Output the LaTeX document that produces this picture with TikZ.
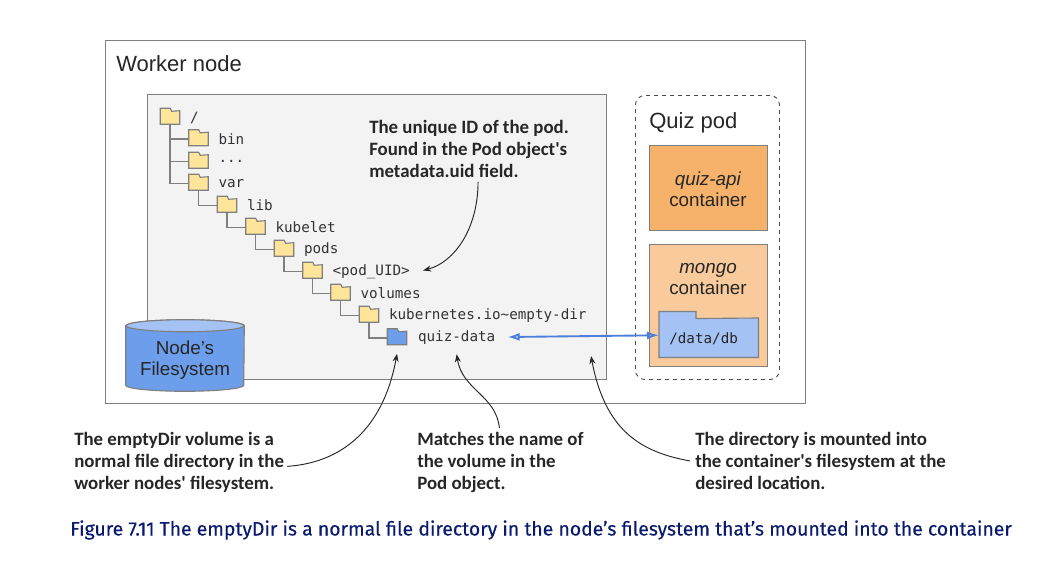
\documentclass[tikz,border=0pt]{standalone}
\usepackage{fontspec}
\setmainfont{Liberation Sans}
\setmonofont{DejaVu Sans Mono}
\newfontfamily\notefont{Carlito}
\newfontfamily\captfont[FakeBold=0.25]{Fira Sans}
\usetikzlibrary{arrows.meta,calc,positioning}
\newcommand{\myunit}{0.75pt}
\newcommand{\dotlbl}{...}
\newcommand{\slashlbl}{/}
\definecolor{linegray}{HTML}{7F7F7F}
\definecolor{paneblue}{HTML}{6D9EEB}
\definecolor{arrowblue}{HTML}{4A7FDC}
\definecolor{lightblue}{HTML}{A4C2F4}
\definecolor{folderyellow}{HTML}{FFE599}
\definecolor{apiorange}{HTML}{F6B26B}
\definecolor{mongoorange}{HTML}{F9CB9C}
\definecolor{panegray}{HTML}{F3F3F3}
\definecolor{captionblue}{HTML}{0A1A6E}
\tikzset{
    boxsty/.style={draw=linegray,line width=0.9pt,rectangle,anchor=north west,inner sep=0pt},
    foldersty/.style={rectangle,inner sep=0pt,minimum width=19*\myunit,minimum height=13*\myunit},
    tabsty/.style={draw=linegray,line width=0.85pt,fill=#1},
    dirsty/.style={anchor=west,font=\ttfamily\fontsize{10.7pt}{12pt}\selectfont,text=black!80,inner sep=0pt},
    linksty/.style={draw=linegray,line width=0.85pt},
    titlesty/.style={anchor=north west,font=\fontsize{16.5pt}{18pt}\selectfont,text=black!85,inner sep=0pt},
    contsty/.style={align=center,font=\fontsize{14.1pt}{16pt}\selectfont,text=black!85,inner sep=0pt},
    notesty/.style={anchor=north west,align=left,font=\notefont\bfseries\fontsize{14.15pt}{16.5pt}\selectfont,text=black!85,inner sep=0pt},
    callsty/.style={draw=black!85,line width=0.7pt,-{Stealth[length=6pt,width=4.5pt]}},
    capsty/.style={x radius=59*\myunit,y radius=6*\myunit},
}
\begin{document}
\begin{tikzpicture}[x=\myunit,y=-\myunit]
  \useasboundingbox (0,0) rectangle (1062,568);

  \node[boxsty,minimum width=700*\myunit,minimum height=363*\myunit] (worker) at (105,40) {};
  \node[titlesty] (workertitle) at (116,55) {Worker node};
  \node[boxsty,fill=panegray,minimum width=459*\myunit,minimum height=285*\myunit] (pane) at (147,94) {};

  % directory tree
  \foreach \fname/\fx/\fy/\ftext in {
    root/170/117.5/\slashlbl,
    bin/198.5/139/bin,
    dots/198.5/161.5/\dotlbl,
    var/198.5/183.5/var,
    lib/227/205.5/lib,
    kubelet/255.5/227.5/kubelet,
    pods/284/249.5/pods,
    poduid/312.5/271.5/{<pod\_UID>},
    volumes/340.5/293.5/volumes,
    k8sdir/369/315.5/{kubernetes.io\textasciitilde empty-dir}}
  {
    \node[foldersty] (\fname) at (\fx,\fy) {};
    \draw[tabsty=folderyellow] (\fname.south west) -- ++(0,-16) -- ++(10,0) -- ++(1.5,3) -- (\fname.north east) -- (\fname.south east) -- cycle;
    \node[dirsty] (\fname-lbl) at ($(\fname.east)+(10,0)$) {\ftext};
  }
  \node[foldersty] (quizdata) at (397,338) {};
  \draw[tabsty=paneblue] (quizdata.south west) -- ++(0,-16) -- ++(10,0) -- ++(1.5,3) -- (quizdata.north east) -- (quizdata.south east) -- cycle;
  \node[dirsty] (quizdata-lbl) at ($(quizdata.east)+(11,0)$) {quiz-data};

  \foreach \fparent/\fchild in {root/bin,root/dots,root/var,var/lib,lib/kubelet,kubelet/pods,pods/poduid,poduid/volumes,volumes/k8sdir,k8sdir/quizdata}
    \draw[linksty] (\fparent.south) |- (\fchild.west);

  % filesystem drum
  \node[rectangle,inner sep=0pt,minimum width=118*\myunit,minimum height=59*\myunit] (nodefs) at (185,355.5) {};
  \draw[tabsty=paneblue] (nodefs.north west) -- (nodefs.south west) arc[start angle=180,end angle=360,capsty] -- (nodefs.north east) arc[start angle=0,end angle=180,capsty] -- cycle;
  \draw[tabsty=lightblue] (nodefs.north) ellipse[capsty];
  \node[contsty] (nodefs-lbl) at (185,360) {Node's\\Filesystem};

  % quiz pod
  \node[boxsty,draw=black!70,dashed,rounded corners=7pt,line width=0.7pt,minimum width=144*\myunit,minimum height=284*\myunit] (pod) at (635,95) {};
  \node[titlesty] (podtitle) at (649,112) {Quiz pod};
  \node[boxsty,fill=apiorange,minimum width=118*\myunit,minimum height=85*\myunit] (api) at (649,145) {};
  \node[contsty] (api-lbl) at (708,189) {\textit{quiz-api}\\container};
  \node[boxsty,fill=mongoorange,minimum width=118*\myunit,minimum height=122*\myunit] (mongo) at (649,244) {};
  \node[contsty] (mongo-lbl) at (708,279) {\textit{mongo}\\container};
  \node[foldersty,anchor=north west,minimum width=99*\myunit,minimum height=39*\myunit] (dbdir) at (659,318) {};
  \draw[tabsty=lightblue] (dbdir.south west) -- ++(0,-46) -- ++(37,0) -- ++(0,7) -- (dbdir.north east) -- (dbdir.south east) -- cycle;
  \node[dirsty,text=black!85] (dbdir-lbl) at (669,339) {/data/db};

  % callouts
  \node[notesty] (uidnote) at (369,120) {The unique ID of the pod.\\Found in the Pod object's\\metadata.uid field.};
  \node[notesty] (dirnote) at (74,432) {The emptyDir volume is a\\normal file directory in the\\worker nodes' filesystem.};
  \node[notesty] (namenote) at (417,432) {Matches the name of\\the volume in the\\Pod object.};
  \node[notesty] (mountnote) at (695,432) {The directory is mounted into\\the container's filesystem at the\\desired location.};
  \coordinate (mountpt) at (591,356);

  \draw[callsty] ($(uidnote.south)+(9,4)$) .. controls (478,228) and (455,262) .. ($(poduid-lbl.east)+(13,-1)$);
  \draw[callsty] ($(dirnote.east)+(3,4)$) .. controls (350,462) and (385,420) .. ($(quizdata.south)+(0,9)$);
  \draw[callsty] ($(namenote.north)+(-1,-4)$) .. controls (496,395) and (462,390) .. ($(quizdata-lbl.south)+(0,9)$);
  \draw[callsty] ($(mountnote.west)+(-5,0)$) .. controls (640,452) and (605,430) .. (mountpt);

  \draw[draw=arrowblue,line width=1.4pt,{Latex[open,length=9pt,width=6pt]}-{Latex[open,length=9pt,width=6pt]}] ($(quizdata-lbl.east)+(12,-1)$) -- ($(dbdir.west)+(0,-2.5)$);

  \node[anchor=west,inner sep=0pt,font=\captfont\fontsize{14.55pt}{16pt}\selectfont,text=captionblue] (caption) at (70,530) {Figure 7.11 The emptyDir is a normal file directory in the node’s filesystem that’s mounted into the container};
\end{tikzpicture}
\end{document}
